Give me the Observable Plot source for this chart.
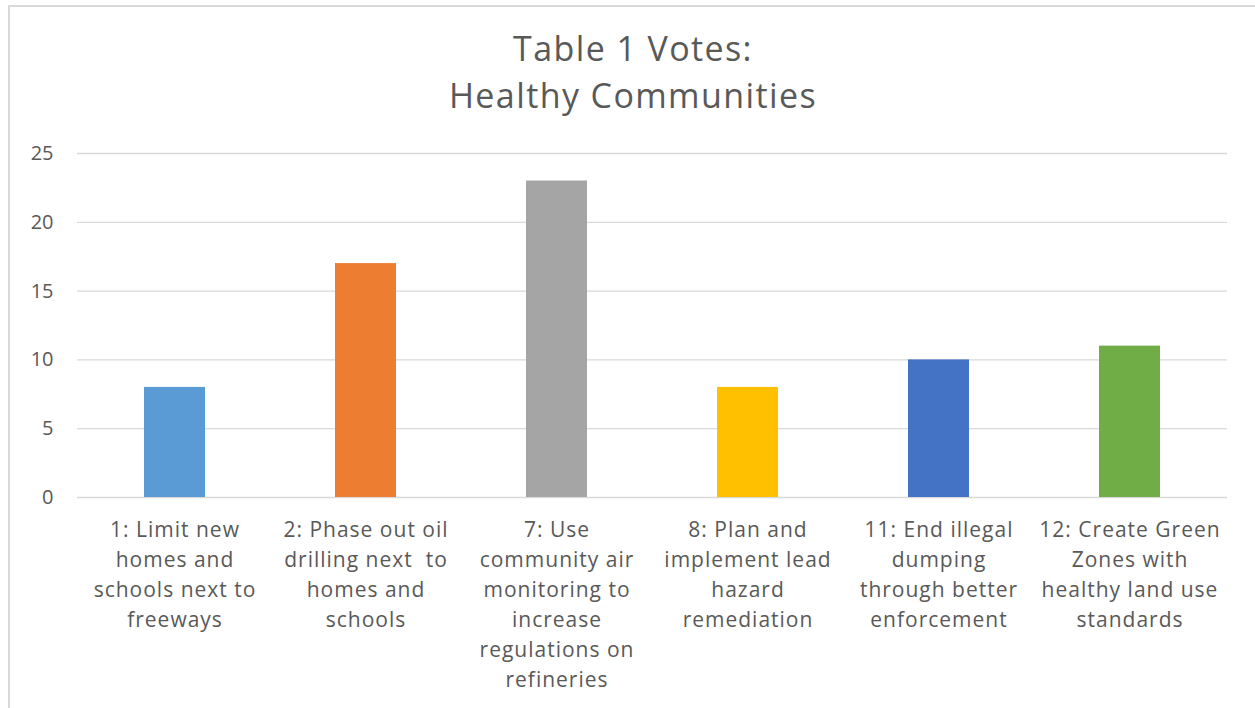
<!DOCTYPE html>
<html>
<head>
<meta charset="utf-8">
<script src="https://cdn.jsdelivr.net/npm/d3@7"></script>
<script src="https://cdn.jsdelivr.net/npm/@observablehq/plot@0.6"></script>
<style>
  html, body { margin: 0; padding: 0; background: #fff; overflow: hidden; }
  #frame { position: absolute; left: 8px; top: 5px; width: 1400px; height: 900px; border: 2px solid #d9d9d9; box-sizing: border-box; }
  #title { position: absolute; left: 0; top: 25px; width: 1266px; text-align: center; font-family: "Open Sans", sans-serif; font-size: 34px; line-height: 47px; letter-spacing: 1.4px; color: #595959; }
  #chart { position: absolute; left: 0; top: 0; }
  #chart svg g[aria-label="x-axis tick label"] text { letter-spacing: 1px; }
</style>
</head>
<body>
<div id="frame"></div>
<div id="title">Table 1 Votes:<br>Healthy Communities</div>
<div id="chart"></div>
<script>
const categories = ["1", "2", "7", "8", "11", "12"];
const tickLabels = [
  "1: Limit new\nhomes and\nschools next to\nfreeways",
  "2: Phase out oil\ndrilling next  to\nhomes and\nschools",
  "7: Use\ncommunity air\nmonitoring to\nincrease\nregulations on\nrefineries",
  "8: Plan and\nimplement lead\nhazard\nremediation",
  "11: End illegal\ndumping\nthrough better\nenforcement",
  "12: Create Green\nZones with\nhealthy land use\nstandards"
];
const votes = [8, 17, 23, 8, 10, 11];
const colors = ["#5B9BD5", "#ED7D31", "#A5A5A5", "#FFC000", "#4472C4", "#70AD47"];
const yTicks = [0, 5, 10, 15, 20, 25];

const data = categories.map((c, i) => ({cat: c, votes: votes[i], color: colors[i], label: tickLabels[i]}));
const labelOf = new Map(categories.map((c, i) => [c, tickLabels[i]]));

const chart = Plot.plot({
  width: 1255,
  height: 708,
  marginLeft: 77,
  marginRight: 28,
  marginTop: 153,
  marginBottom: 211,
  style: {fontFamily: "'Open Sans', sans-serif", fontSize: "20px", color: "#595959", background: "transparent"},
  x: {domain: categories, paddingInner: 0.682, paddingOuter: 0.341, label: null},
  y: {domain: [0, 25], label: null},
  marks: [
    Plot.gridY(yTicks, {stroke: "#d9d9d9", strokeOpacity: 1, strokeWidth: 1.3}),
    Plot.barY(data, {x: "cat", y: "votes", fill: "color"}),
    Plot.axisY(yTicks, {tickSize: 0, tickPadding: 24, fontSize: 20, fill: "#595959", label: null}),
    Plot.axisX({tickSize: 0, tickPadding: 18, fontSize: 21, fill: "#595959", lineHeight: 30 / 21, tickFormat: d => labelOf.get(d), label: null})
  ]
});
document.getElementById("chart").appendChild(chart);
</script>
</body>
</html>
